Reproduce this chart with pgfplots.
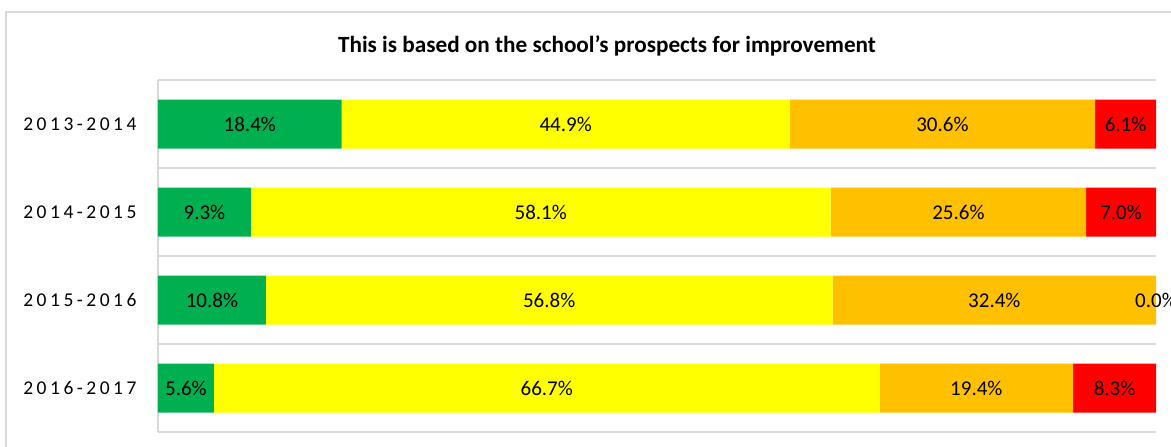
\documentclass[border=0pt]{standalone}
\usepackage{fontspec}
\setmainfont{Carlito}
\usepackage{pgfplots}
\pgfplotsset{compat=1.18}
\definecolor{cgreen}{HTML}{00B050}
\definecolor{cyellow}{HTML}{FFFF00}
\definecolor{corange}{HTML}{FFC000}
\definecolor{cred}{HTML}{FF0000}
\definecolor{gridcol}{HTML}{D9D9D9}
\begin{document}
\begin{tikzpicture}
\useasboundingbox (0pt,0pt) rectangle (1171pt,447pt);
\draw[color=gridcol, line width=1.3pt] (6pt,435pt) rectangle (1215pt,-20pt);
\node[font=\bfseries\fontsize{23.2}{27}\selectfont] at (607pt,401pt) {This is based on the school’s prospects for improvement};
\pgfplotsset{common/.style={
  at={(158pt,15pt)}, anchor=south west, scale only axis,
  width=998pt, height=352pt,
  xmin=0, xmax=100, ymin=-0.5, ymax=3.5, y dir=reverse, clip=false}}
\begin{axis}[common,
  xbar stacked, bar width=49pt,
  axis lines*=left,
  x axis line style={draw=none},
  y axis line style={draw=gridcol, line width=1.3pt},
  xtick=\empty,
  ytick={0,1,2,3},
  yticklabels={2013-2014,2014-2015,2015-2016,2016-2017},
  yticklabel style={font=\addfontfeatures{LetterSpace=18}\fontsize{19.5}{22}\selectfont, xshift=-18pt},
  major tick length=0pt, minor tick length=0pt,
  minor ytick={-0.5,0.5,1.5,2.5,3.5},
  yminorgrids=true,
  minor y grid style={draw=gridcol, line width=1.3pt},
]
\addplot[fill=cgreen, draw=none] coordinates {(18.4,0) (9.3,1) (10.8,2) (5.6,3)};
\addplot[fill=cyellow, draw=none] coordinates {(44.9,0) (58.1,1) (56.8,2) (66.7,3)};
\addplot[fill=corange, draw=none] coordinates {(30.6,0) (25.6,1) (32.4,2) (19.4,3)};
\addplot[fill=cred, draw=none] coordinates {(6.1,0) (7.0,1) (0.0,2) (8.3,3)};
\end{axis}
\begin{axis}[common, hide axis,
  every node near coord/.append style={anchor=center, inner sep=0pt, font=\fontsize{21}{25}\selectfont, text=black}]
\addplot[draw=none, mark=none, nodes near coords, point meta=explicit symbolic] coordinates {
(9.2,0) [18.4\%] (40.85,0) [44.9\%] (78.6,0) [30.6\%] (96.95,0) [6.1\%]
(4.65,1) [9.3\%] (38.35,1) [58.1\%] (80.2,1) [25.6\%] (96.5,1) [7.0\%]
(5.4,2) [10.8\%] (39.2,2) [56.8\%] (83.8,2) [32.4\%] (100,2) [0.0\%]
(2.8,3) [5.6\%] (38.95,3) [66.7\%] (82.0,3) [19.4\%] (95.85,3) [8.3\%]
};
\end{axis}
\end{tikzpicture}
\end{document}
